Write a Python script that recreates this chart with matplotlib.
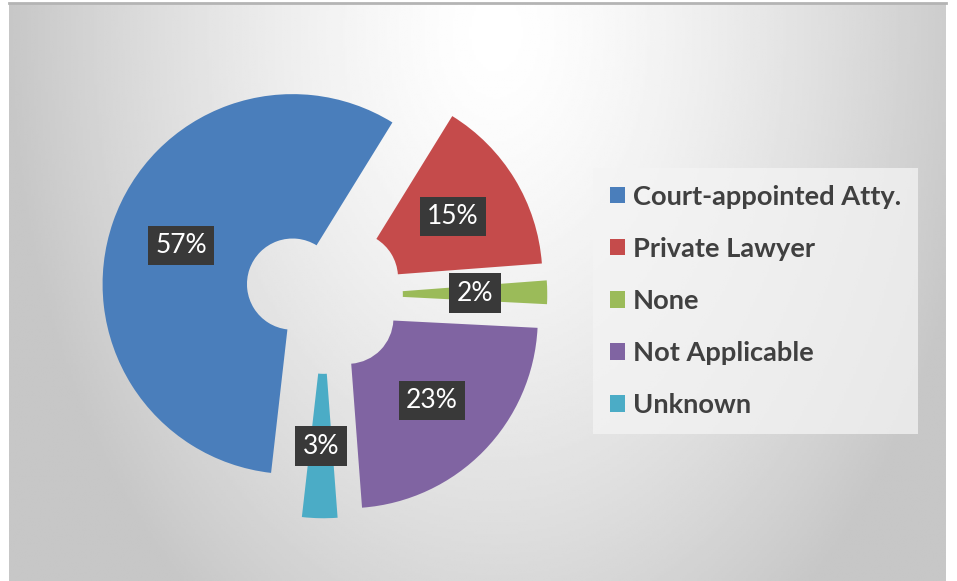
import matplotlib.pyplot as plt
import numpy as np

# data
categories = ["Court-appointed Atty.", "Private Lawyer", "None", "Not Applicable", "Unknown"]
shares = [57, 15, 2, 23, 3]
colors = ["#4a7ebb", "#c54b4b", "#9bbb59", "#8064a2", "#4bacc6"]

plt.rcParams["font.family"] = ["Lato", "DejaVu Sans"]

W, H = 957, 581
fig = plt.figure(figsize=(W / 100, H / 100), dpi=100)
fig.patch.set_facecolor("white")

# radial grey background of the chart area
bg = fig.add_axes([9 / W, 0, (946 - 9) / W, (H - 3) / H])
gx, gy = np.meshgrid(np.linspace(0, 1, 400), np.linspace(0, 1, 250))
d = np.sqrt(((gx - 0.52) / 0.52) ** 2 + ((gy - 0.05) / 1.25) ** 2)
shade = 1.0 - 0.22 * np.clip(d, 0, 1) ** 1.4
bg.imshow(shade, cmap="gray", vmin=0, vmax=1, aspect="auto", extent=(0, 1, 1, 0))
bg.axis("off")
fig.add_artist(plt.Line2D([9 / W, 946 / W], [1 - 3 / H, 1 - 3 / H], color="#b4b4b4", lw=2))

# donut, 1 data unit = 190 px, centre at (324, 295) px
R = 190.0
cx, cy = 324.0, 295.0
ax = fig.add_axes([0, 0, 1, 1])
ax.set_facecolor("none")

wedges, _, pcts = ax.pie(
    shares,
    colors=colors,
    startangle=-96.5,
    counterclock=False,
    explode=[0.175] * len(shares),
    radius=1.0,
    autopct="%1.0f%%",
    pctdistance=0.62,
    wedgeprops=dict(width=0.76, edgecolor="none"),
)
for t in pcts:
    t.set_color("white")
    t.set_fontsize(19)
    t.set_bbox(dict(boxstyle="square,pad=0.28", facecolor="#393939", edgecolor="none"))

ax.set_xlim(-cx / R, (W - cx) / R)
ax.set_ylim(-(H - cy) / R, cy / R)
ax.set_aspect("auto")
ax.axis("off")

leg = ax.legend(
    wedges, categories,
    loc="upper left",
    bbox_to_anchor=(593 / W, 1 - 168 / H),
    bbox_transform=fig.transFigure,
    frameon=True, fancybox=False,
    prop=dict(weight="bold", size=19.6),
    labelcolor="#404040",
    handlelength=0.55, handleheight=0.55, handletextpad=0.3,
    labelspacing=1.03, borderpad=0.62, borderaxespad=0,
)
leg.get_frame().set_facecolor("#f4f4f4")
leg.get_frame().set_alpha(0.75)
leg.get_frame().set_edgecolor("none")

plt.savefig("out.png", dpi=100)
